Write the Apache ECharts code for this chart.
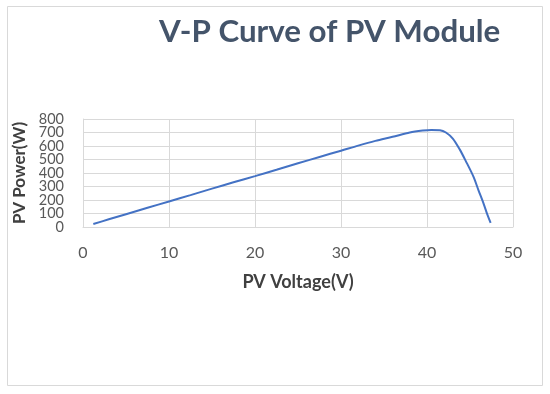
<!DOCTYPE html>
<html>
<head>
<meta charset="utf-8">
<script src="https://cdn.jsdelivr.net/npm/echarts@6/dist/echarts.min.js"></script>
<style>html,body{margin:0;padding:0;background:#fff}#c{width:550px;height:394px}</style>
</head>
<body>
<div id="c"></div>
<script>
const titleText = "V-P Curve of PV Module";
const xName = "PV Voltage(V)";
const yName = "PV Power(W)";
const voltage = [1.2, 3, 5, 7.5, 10, 12.5, 15, 17.5, 20, 22.5, 25, 27.5, 30, 32, 34, 36, 38, 39.5, 40.5, 41.5, 42.2, 43, 43.8, 44.5, 45.4, 46, 46.6, 47, 47.4];
const power   = [22, 57, 95, 142, 189, 236, 284, 331, 377, 424, 472, 519, 565, 603, 638, 668, 700, 714, 719, 717, 700, 655, 575, 490, 373, 270, 170, 95, 30];
const xTicks = [0, 10, 20, 30, 40, 50];
const yTicks = [0, 100, 200, 300, 400, 500, 600, 700, 800];
const yTicksEven = yTicks.filter((v, i) => i % 2 === 0);
const yTicksOdd = yTicks.filter((v, i) => i % 2 === 1);

const chart = echarts.init(document.getElementById('c'), null, {renderer: 'canvas'});
const font = 'Lato, "Open Sans", sans-serif';
const yLabel = (vals) => ({
  fontFamily: font, fontSize: 14.5, color: '#595959', margin: 19,
  customValues: vals, showMinLabel: true, showMaxLabel: true, hideOverlap: false
});
chart.setOption({
  animation: false,
  backgroundColor: '#fff',
  title: {
    text: titleText,
    left: 154, top: 11,
    textStyle: {fontFamily: font, fontWeight: 'bold', fontSize: 31.3, color: '#44546a'}
  },
  graphic: [{
    type: 'rect', shape: {x: 7.5, y: 6.5, width: 535, height: 379},
    style: {fill: 'none', stroke: '#d9d9d9', lineWidth: 1}, silent: true, z: -1
  }],
  grid: {left: 83, right: 37, top: 119, bottom: 167, containLabel: false},
  xAxis: {
    type: 'value', min: xTicks[0], max: xTicks[xTicks.length - 1], interval: 10,
    name: xName, nameLocation: 'middle', nameGap: 46,
    nameTextStyle: {fontFamily: font, fontWeight: 'bold', fontSize: 18, color: '#404040'},
    axisLine: {show: true, lineStyle: {color: '#d9d9d9'}},
    axisTick: {show: false},
    axisLabel: {fontFamily: font, fontSize: 16, color: '#595959', margin: 18},
    splitLine: {show: true, lineStyle: {color: '#d9d9d9'}}
  },
  yAxis: [{
    type: 'value', position: 'left', min: yTicks[0], max: yTicks[yTicks.length - 1], interval: 100,
    name: yName, nameLocation: 'middle', nameGap: 40,
    nameTextStyle: {fontFamily: font, fontWeight: 'bold', fontSize: 17, color: '#404040'},
    axisLine: {show: true, lineStyle: {color: '#d9d9d9'}},
    axisTick: {show: false},
    axisLabel: yLabel(yTicksEven),
    splitLine: {show: true, lineStyle: {color: '#d9d9d9'}}
  }, {
    type: 'value', position: 'left', offset: 0, min: yTicks[0], max: yTicks[yTicks.length - 1], interval: 100,
    axisLine: {show: false},
    axisTick: {show: false},
    axisLabel: yLabel(yTicksOdd),
    splitLine: {show: false}
  }],
  series: [{
    type: 'line',
    yAxisIndex: 0,
    data: voltage.map((v, i) => [v, power[i]]),
    smooth: 0.3,
    showSymbol: false,
    lineStyle: {color: '#4472c4', width: 2}
  }]
});
</script>
</body>
</html>
